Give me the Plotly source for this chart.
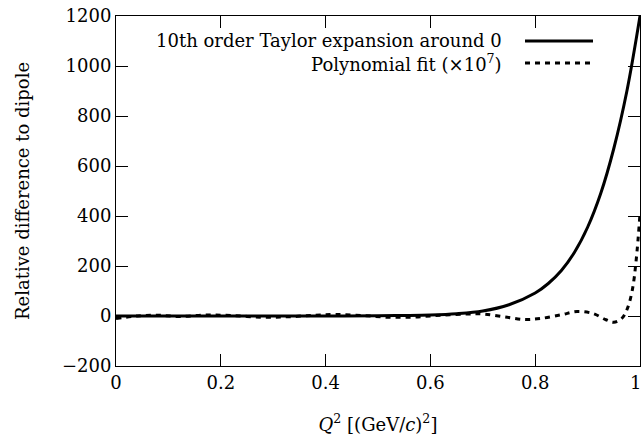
import plotly.graph_objects as go

# Data
taylor_x = [0.0, 0.1, 0.2, 0.3, 0.4, 0.5, 0.55, 0.6, 0.65, 0.7, 0.75, 0.8, 0.825, 0.85, 0.875,
            0.9, 0.925, 0.95, 0.975, 1.0]
taylor_y = [0, 0, 0, 0, 0, 1, 2, 4, 9, 20, 45, 92, 130, 182, 255,
            355, 490, 670, 900, 1200]

poly_x = [0.0, 0.04, 0.08, 0.12, 0.17, 0.22, 0.28, 0.33, 0.38, 0.42, 0.47, 0.52, 0.57, 0.62,
          0.67, 0.70, 0.74, 0.78, 0.81, 0.85, 0.88, 0.91, 0.935, 0.95, 0.965, 0.975, 0.985,
          0.993, 1.0]
poly_y = [-10, 0, 3, -2, 4, 2, -5, -3, 3, 6, 2, -5, -4, 3,
          8, 8, -3, -14, -10, 5, 18, 10, -15, -25, -10, 25, 100,
          230, 410]

x_ticks = [0, 0.2, 0.4, 0.6, 0.8, 1]
x_tick_labels = ["0", "0.2", "0.4", "0.6", "0.8", "1"]
y_ticks = [-200, 0, 200, 400, 600, 800, 1000, 1200]
y_tick_labels = ["\u2212200", "0", "200", "400", "600", "800", "1000", "1200"]

legend_names = ["10th order Taylor expansion around 0", "Polynomial fit (\u00d710<sup>7</sup>)"]

FONT = "DejaVu Serif"
FS = 18
W, H = 643, 441
L, R, T, B = 116, 3, 16, 75

fig = go.Figure()
fig.add_trace(go.Scatter(x=taylor_x, y=taylor_y, mode="lines", name=legend_names[0],
                         line=dict(color="black", width=3, shape="spline"), showlegend=False,
                         cliponaxis=True))
fig.add_trace(go.Scatter(x=poly_x, y=poly_y, mode="lines", name=legend_names[1],
                         line=dict(color="black", width=3, dash="5px,5px", shape="spline"),
                         showlegend=False, cliponaxis=True))

axis_common = dict(showline=True, linecolor="black", linewidth=1, mirror="ticks",
                   ticks="inside", ticklen=12, tickcolor="black", tickwidth=1,
                   showgrid=False, zeroline=False,
                   tickfont=dict(family=FONT, size=FS, color="black"))

# last x tick label is drawn as an annotation so it stays inside the page edge
fig.update_xaxes(range=[0, 1], tickvals=x_ticks, ticktext=x_tick_labels[:-1] + [""],
                 title=dict(text="<i>Q</i><sup>2</sup> [(GeV/<i>c</i>)<sup>2</sup>]",
                            font=dict(family=FONT, size=FS, color="black"), standoff=26),
                 **axis_common)
fig.update_yaxes(range=[-200, 1200], tickvals=y_ticks, ticktext=y_tick_labels,
                 title=dict(text="Relative difference to dipole",
                            font=dict(family=FONT, size=FS, color="black"), standoff=27),
                 **axis_common)

pw = W - L - R
ph = H - T - B
def px(xp):
    return (xp - L) / pw
def py(yp):
    return 1 - (yp - T) / ph

fig.add_annotation(x=px(642), y=py(383), xref="paper", yref="paper", text=x_tick_labels[-1],
                   showarrow=False, xanchor="right", yanchor="middle", borderpad=0,
                   font=dict(family=FONT, size=FS, color="black"))

# Legend drawn gnuplot style: text right-aligned, sample on the right
rows_y = [41, 63]
dashes = ["solid", "5px,5px"]
for name, yy, dsh in zip(legend_names, rows_y, dashes):
    fig.add_annotation(x=px(504), y=py(yy), xref="paper", yref="paper", text=name,
                       showarrow=False, xanchor="right", yanchor="middle",
                       font=dict(family=FONT, size=FS, color="black"))
    fig.add_shape(type="line", xref="paper", yref="paper", x0=px(525), x1=px(593),
                  y0=py(yy), y1=py(yy), line=dict(color="black", width=3, dash=dsh))

fig.update_layout(width=W, height=H, margin=dict(l=L, r=R, t=T, b=B, autoexpand=False),
                  plot_bgcolor="white", paper_bgcolor="white",
                  font=dict(family=FONT, size=FS, color="black"))

fig.write_html("out.html", config={"displayModeBar": False},
               post_script="document.body.style.margin='0';document.body.style.overflow='hidden';")
